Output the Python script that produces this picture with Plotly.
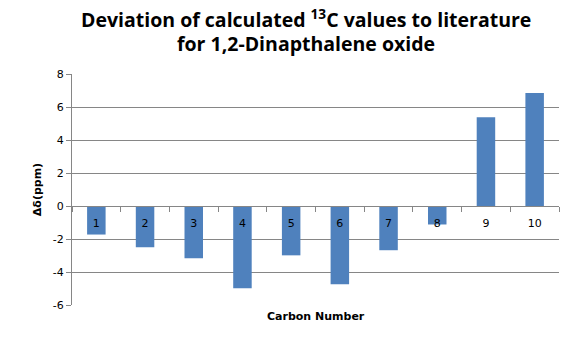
import plotly.graph_objects as go

categories = ["1", "2", "3", "4", "5", "6", "7", "8", "9", "10"]
deviation = [-1.73, -2.5, -3.17, -4.98, -2.99, -4.74, -2.68, -1.12, 5.38, 6.85]
y_ticks = [-6, -4, -2, 0, 2, 4, 6, 8]
y_tick_text = ["-6", "-4", "-2", "0", "2", "4", "6", "8"]
title_lines = ["Deviation of calculated <sup>13</sup>C values to literature",
               "for 1,2-Dinapthalene oxide"]

grid = "#868686"
fig = go.Figure(go.Bar(x=categories, y=deviation, marker_color="#4F81BD",
                       marker_line_width=0))
fig.update_layout(
    width=587, height=339,
    margin=dict(l=72, r=28, t=74, b=34),
    paper_bgcolor="white", plot_bgcolor="white",
    bargap=0.62,
    showlegend=False,
    font=dict(family="DejaVu Sans", size=11, color="black"),
)
fig.update_xaxes(type="category", anchor="free", position=6/14,
                 showline=True, linecolor=grid, linewidth=1,
                 ticks="outside", tickson="boundaries", ticklen=5, tickcolor=grid,
                 ticklabelstandoff=7,
                 showgrid=False, tickfont=dict(family="DejaVu Sans", size=11))
fig.update_yaxes(range=[-6, 8], tickvals=y_ticks, ticktext=y_tick_text,
                 showgrid=True, gridcolor=grid,
                 showline=True, linecolor=grid, ticks="outside", ticklen=5, tickcolor=grid,
                 zeroline=False, tickfont=dict(family="DejaVu Sans", size=11),
                 title=dict(text="Δδ(ppm)", standoff=8,
                            font=dict(family="DejaVu Sans", size=11, weight="bold")))
for line, ypx in zip(title_lines, [18, 43]):
    fig.add_annotation(text="<b>" + line + "</b>", xref="paper", yref="paper",
                       x=(306 - 72) / 487, y=(305 - ypx) / 231,
                       xanchor="center", yanchor="middle", showarrow=False,
                       font=dict(family="Open Sans", size=19.5, color="black"))
fig.add_annotation(text="<b>Carbon Number</b>", xref="paper", yref="paper",
                   x=0.5, y=(305 - 316) / 231, yanchor="middle", showarrow=False,
                   font=dict(family="DejaVu Sans", size=11))
fig.write_html("out.html")
